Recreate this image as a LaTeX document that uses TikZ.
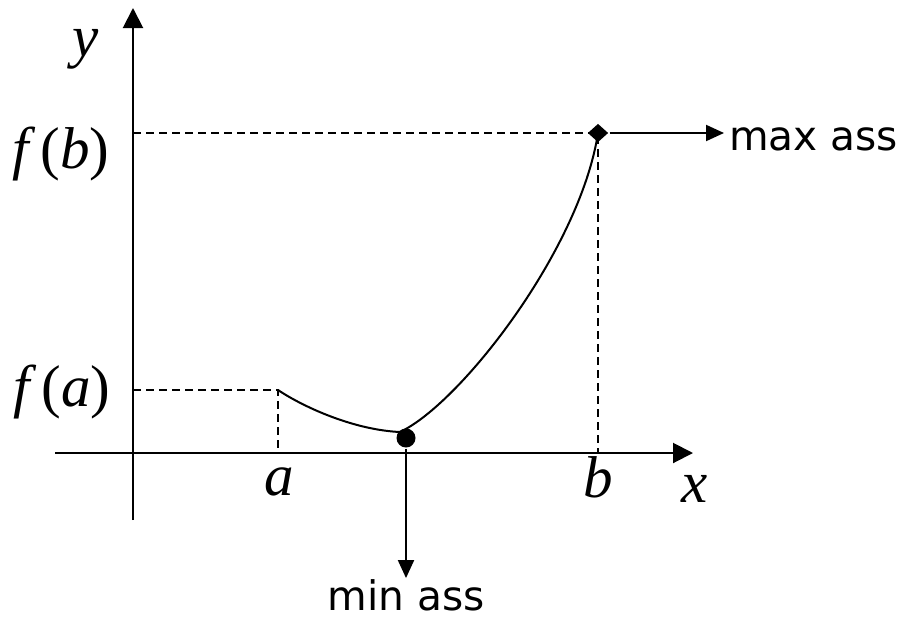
\documentclass[tikz,border=0pt]{standalone}
\usepackage{fontspec}
\newfontfamily\serifmat{Liberation Serif}
\newfontfamily\sansdv{DejaVu Sans}
\usetikzlibrary{arrows.meta, shapes.geometric, positioning}
\newcommand{\funz}[1]{\textit{f}\kern5pt(\textit{#1})}

\begin{document}
\begin{tikzpicture}[
  x=1pt, y=-1pt,
  line width=2pt,
  asse/.style={-{Triangle[length=20pt,width=20pt]}},
  freccia/.style={-{Triangle[length=18pt,width=16pt]}},
  tratteggio/.style={line width=1.8pt, dash pattern=on 8pt off 5pt},
  lettera/.style={font=\fontsize{59}{62}\serifmat\itshape, inner sep=0pt, anchor=base},
  testo/.style={font=\fontsize{40.7}{48}\sansdv, inner sep=0pt},
  punto/.style={circle, fill, inner sep=0pt, minimum size=19pt},
  rombo/.style={diamond, fill, inner sep=0pt, minimum width=21pt, minimum height=19pt}
]
  \useasboundingbox (0,0) rectangle (899,627);

  % --- Assi ---
  \coordinate (O)    at (133,453);
  \coordinate (xsx)  at (55,453);
  \coordinate (xdx)  at (693,453);
  \coordinate (ygiu) at (133,520);
  \coordinate (ysu)  at (133,8);
  \draw[asse] (xsx) -- (xdx);
  \draw[asse] (ygiu) -- (ysu);

  % --- Punti estremi ---
  \coordinate (fa) at (278,390);
  \coordinate (fondo) at (400,432);
  \node[rombo] (maxpt) at (598,133) {};
  \node[punto] (minpt) at (406,438) {};

  % --- Tratteggi ---
  \draw[tratteggio] (O |- fa) -- (fa) -- (fa |- O);
  \draw[tratteggio] (O |- maxpt) -- (maxpt.center) -- (maxpt |- O);

  % --- Curva ---
  \draw (fa) .. controls (305,408) and (355,430) .. (fondo)
             .. controls (460,404) and (580,250) .. (maxpt.center);

  % --- Etichette ---
  \node[lettera] (ly)  at (86,56)   {y};
  \node[lettera] (lx)  at (695,502) {x};
  \node[lettera] (la)  at (279,495) {a};
  \node[lettera] (lb)  at (598,497) {b};
  \node[lettera, font=\fontsize{59}{62}\serifmat] (lfb) at (61,168) {\funz{b}};
  \node[lettera, font=\fontsize{59}{62}\serifmat] (lfa) at (62,406) {\funz{a}};

  \node[testo, anchor=base west] (maxlab) at (728,150) {max ass};
  \node[testo, anchor=base] (minlab) at (406,610) {min ass};

  % --- Frecce ---
  \draw[freccia, shorten >=4pt] (maxpt.east) -- (maxpt -| maxlab.west);
  \draw[freccia] (minpt.south) -- (minpt |- minlab.north);
\end{tikzpicture}
\end{document}
